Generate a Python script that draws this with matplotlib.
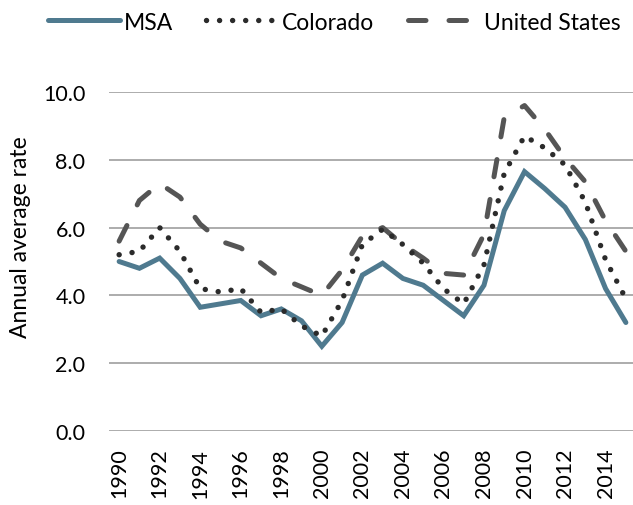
import matplotlib
matplotlib.use("Agg")
import matplotlib.pyplot as plt

years = list(range(1990, 2016))
msa = [5.0, 4.8, 5.1, 4.5, 3.65, 3.75, 3.85, 3.4, 3.6, 3.25, 2.5, 3.2, 4.6,
       4.95, 4.5, 4.3, 3.85, 3.4, 4.3, 6.5, 7.65, 7.15, 6.6, 5.65, 4.2, 3.2]
colorado = [5.2, 5.3, 6.0, 5.3, 4.2, 4.1, 4.2, 3.5, 3.6, 3.1, 2.8, 3.85, 5.5,
            5.95, 5.5, 4.95, 4.2, 3.75, 4.9, 7.6, 8.7, 8.35, 7.85, 6.75, 5.05, 3.9]
us = [5.6, 6.8, 7.3, 6.9, 6.1, 5.6, 5.4, 4.95, 4.5, 4.25, 4.0, 4.75, 5.75,
      6.0, 5.5, 5.1, 4.65, 4.6, 5.8, 9.25, 9.6, 8.9, 8.05, 7.35, 6.2, 5.3]
series_names = ["MSA", "Colorado", "United States"]
yticks = [0, 2, 4, 6, 8, 10]
xtick_years = list(range(1990, 2015, 2))

plt.rcParams['font.family'] = ['Lato', 'DejaVu Sans']

fig = plt.figure(figsize=(6.33, 5.06), dpi=100)
ax = fig.add_axes([109/633, (506-432)/506, (636-109)/633, (432-93)/506])

x = list(range(len(years)))
l1, = ax.plot(x, msa, color="#4F7A8F", lw=3.6, solid_capstyle='round',
              solid_joinstyle='miter', label=series_names[0], zorder=3)
l2, = ax.plot(x, colorado, color="#2B2B2B", lw=3.9, dash_capstyle='round',
              linestyle=(0, (0.01, 2.4)), label=series_names[1], zorder=4)
l3, = ax.plot(x, us, color="#555555", lw=3.6, dash_capstyle='round',
              linestyle=(0, (3.5, 4.6)), label=series_names[2], zorder=2)

ax.set_xlim(-0.5, len(years) - 0.5)
ax.set_ylim(0, 10)
ax.set_yticks(yticks)
ax.set_yticklabels([f"{v:.1f}" for v in yticks])
ax.set_xticks([years.index(y) for y in xtick_years])
ax.set_xticklabels([str(y) for y in xtick_years], rotation=90)
ax.tick_params(axis='both', length=0, labelsize=15.5, colors="#000000")
ax.tick_params(axis='x', pad=12)
ax.tick_params(axis='y', pad=17)
ax.grid(axis='y', color="#A6A6A6", lw=1.3)
ax.set_axisbelow(True)
for s in ax.spines.values():
    s.set_visible(False)

fig.text(21/633, 1 - 237/506, "Annual average rate", rotation=90,
         ha='center', va='center', fontsize=16.5)

fig.legend(handles=[l1, l2, l3], loc='center', bbox_to_anchor=(334/633, 1 - 23/506),
           ncol=3, frameon=False, fontsize=16.5, handlelength=3.15,
           handletextpad=0.17, columnspacing=1.45)

fig.savefig("out.png", dpi=100)
